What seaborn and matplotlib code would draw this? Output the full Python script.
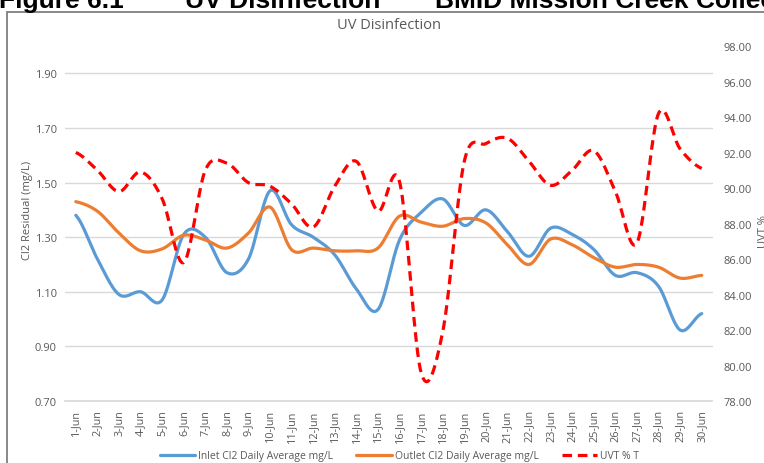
import numpy as np
import pandas as pd
import matplotlib
matplotlib.use("Agg")
import matplotlib.pyplot as plt
from matplotlib.patches import Rectangle
import seaborn as sns

# Data (June daily values)
days = ["%d-Jun" % d for d in range(1, 31)]
inlet = [1.38, 1.22, 1.09, 1.10, 1.07, 1.31, 1.30, 1.17, 1.22, 1.47,
         1.345, 1.30, 1.235, 1.11, 1.035, 1.29, 1.39, 1.44, 1.343, 1.40,
         1.32, 1.23, 1.333, 1.31, 1.255, 1.16, 1.17, 1.12, 0.96, 1.02]
outlet = [1.43, 1.395, 1.315, 1.25, 1.257, 1.307, 1.29, 1.26, 1.315, 1.41,
          1.254, 1.26, 1.25, 1.25, 1.26, 1.377, 1.355, 1.34, 1.368, 1.352,
          1.272, 1.20, 1.293, 1.272, 1.225, 1.19, 1.20, 1.19, 1.15, 1.16]
uvt = [92.0, 91.0, 89.8, 90.9, 89.4, 85.8, 91.0, 91.4, 90.3, 90.1,
       89.1, 87.8, 90.1, 91.5, 88.7, 90.35, 79.6, 81.9, 91.5, 92.5,
       92.8, 91.5, 90.15, 91.0, 92.1, 89.8, 86.9, 94.2, 92.2, 91.1]

left_ticks = [0.70, 0.90, 1.10, 1.30, 1.50, 1.70, 1.90]
right_ticks = [78, 80, 82, 84, 86, 88, 90, 92, 94, 96, 98]


def smooth(vals, n=24):
    # Excel-style smoothed line (Catmull-Rom through the read points)
    p = np.asarray(vals, float)
    pad = np.concatenate([[p[0]], p, [p[-1]]])
    xs, ys = [], []
    t = np.linspace(0, 1, n, endpoint=False)
    for i in range(len(p) - 1):
        p0, p1, p2, p3 = pad[i], pad[i + 1], pad[i + 2], pad[i + 3]
        y = 0.5 * (2 * p1 + (p2 - p0) * t + (2 * p0 - 5 * p1 + 4 * p2 - p3) * t ** 2
                   + (-p0 + 3 * p1 - 3 * p2 + p3) * t ** 3)
        xs.append(i + t)
        ys.append(y)
    xs.append([len(p) - 1])
    ys.append([p[-1]])
    return pd.DataFrame({"x": np.concatenate(xs), "y": np.concatenate(ys)})


sns.set_theme(style="white")
plt.rcParams["font.family"] = ["Open Sans", "DejaVu Sans"]
gray = "#595959"

fig = plt.figure(figsize=(7.64, 4.64), dpi=100)
ax = fig.add_axes([65 / 764, 1 - 402 / 464, 647.5 / 764, 355 / 464])
ax2 = ax.twinx()

blue, orange, red = "#5B9BD5", "#ED7D31", "#FF0000"
sns.lineplot(data=smooth(inlet), x="x", y="y", ax=ax, color=blue, lw=2.3,
             label="Inlet Cl2 Daily Average mg/L", legend=False)
sns.lineplot(data=smooth(outlet), x="x", y="y", ax=ax, color=orange, lw=2.3,
             label="Outlet Cl2 Daily Average mg/L", legend=False)
sns.lineplot(data=smooth(uvt), x="x", y="y", ax=ax2, color=red, lw=2.3,
             linestyle=(0, (3, 1.8)), label="UVT % T", legend=False)

ax.set_xlim(-0.5, len(days) - 0.5)
ax.set_ylim(0.70, 2.00)
ax2.set_ylim(78, 98)
ax.set_xticks(range(len(days)))
ax.set_xticklabels(days, rotation=90, fontsize=7.8, color=gray)
ax.set_yticks(left_ticks)
ax.set_yticklabels(["%.2f" % v for v in left_ticks], fontsize=8, color=gray)
ax2.set_yticks(right_ticks)
ax2.set_yticklabels(["%.2f" % v for v in right_ticks], fontsize=8, color=gray)
ax.tick_params(axis="both", length=0, pad=6)
ax2.tick_params(axis="y", length=0, pad=8)
ax.grid(axis="y", color="#D9D9D9", lw=1)
ax.set_axisbelow(True)
for a in (ax, ax2):
    for s in a.spines.values():
        s.set_visible(False)
ax.spines["bottom"].set_visible(True)
ax.spines["bottom"].set_color("#D9D9D9")
ax.set_xlabel("")
ax.set_ylabel("Cl2 Residual (mg/L)", fontsize=8, color=gray)
ax.yaxis.set_label_coords(-0.05, 0.54)
ax2.set_ylabel("UVT %", fontsize=8, color=gray, rotation=90)
ax2.yaxis.set_label_coords(1.07, 0.48)

ax.set_title("UV Disinfection", fontsize=10.5, color=gray, pad=0, y=1 + 18 / 355)

h1, l1 = ax.get_legend_handles_labels()
h2, l2 = ax2.get_legend_handles_labels()
fig.legend(h1 + h2, l1 + l2, loc="center", bbox_to_anchor=(0.523, 1 - 457 / 464),
           ncol=3, frameon=False, fontsize=7.5, labelcolor=gray,
           handlelength=3.4, handletextpad=0.3, columnspacing=2.2)

# cropped page header and chart frame
hdr = dict(fontsize=19, weight="bold", family=["Liberation Sans", "DejaVu Sans"],
           va="baseline", ha="left", color="black")
fig.text(-1 / 764, 1 - 8 / 464, "Figure 6.1", **hdr)
fig.text(185 / 764, 1 - 8 / 464, "UV Disinfection", **hdr)
fig.text(435 / 764, 1 - 8 / 464, "BMID Mission Creek Collection", **hdr)
fig.add_artist(Rectangle((7 / 764, -0.1), 2, 1 - 13 / 464 + 0.1, transform=fig.transFigure,
                         fill=False, edgecolor="#7F7F7F", lw=1.3))

fig.savefig("out.png", dpi=100)
